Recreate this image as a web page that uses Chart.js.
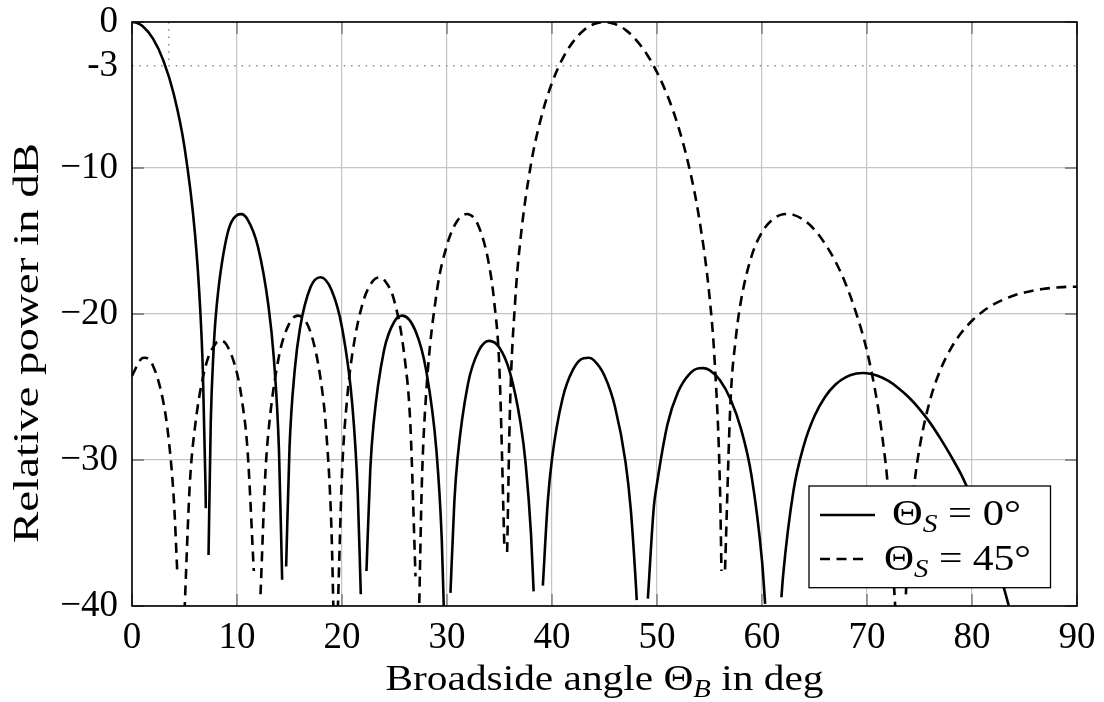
<!DOCTYPE html>
<html>
<head>
<meta charset="utf-8">
<script src="https://cdn.jsdelivr.net/npm/chart.js@4.4.0/dist/chart.umd.min.js"></script>
<style>
  html, body { margin: 0; padding: 0; background: #fff; }
</style>
</head>
<body>
<canvas id="plot" width="1104" height="702"></canvas>
<script>
// beam pattern, steering angle 0 deg (null = gap at a pattern null)
anglesSteer0 = [0, 0.5, 1, 2, 3, 4, 5, 6, 6.5, 6.75, 7, 7.03, 7.18, 7.29, 7.5, 7.75, 8, 9, 10, 10.4, 11, 12, 13, 13.5, 14, 14.3, 14.48, 14.68, 15, 15.5, 16, 17, 17.95, 19, 20, 21, 21.5, 21.79, 22.02, 22.33, 22.7, 23, 24, 25, 25.75, 27, 28, 29, 29.5, 29.75, 30, 30.33, 30.7, 31, 32, 33, 34, 35, 36, 37, 37.5, 38, 38.25, 38.68, 39.13, 39.6, 40, 41, 42, 43, 43.5, 44, 45, 46, 47, 47.5, 48, 48.07, 48.59, 49.13, 49.7, 50, 51, 52, 53, 54, 54.4, 55, 56, 57, 58, 59, 60, 60.3, 61.04, 61.85, 62, 63, 64, 65, 66, 67, 68, 69, 69.6, 70, 71, 72, 73, 74, 75, 76, 77, 78, 79, 80, 81, 82, 83, 84]
powerSteer0 = [0, -0.07, -0.28, -1.14, -2.66, -5.0, -8.57, -14.51, -19.72, -23.95, -31.76, -33.3, null, -36.5, -27.43, -22.75, -19.96, -14.78, -13.23, -13.16, -13.52, -15.41, -19.47, -22.96, -29.38, -38.2, null, -37.3, -29.18, -23.83, -20.97, -18.17, -17.48, -18.35, -20.92, -26.38, -32.28, -39.2, null, -37.6, -30.55, -27.58, -22.5, -20.5, -20.11, -21.17, -23.81, -29.41, -35.42, -41.5, null, -39.1, -32.85, -29.93, -24.77, -22.55, -21.84, -22.31, -24.01, -27.46, -30.31, -35.07, -39.0, null, -38.6, -32.84, -29.92, -25.8, -23.81, -23.03, -23.0, -23.18, -24.23, -26.35, -30.13, -33.37, -38.67, -39.6, null, -39.5, -33.19, -31.61, -27.55, -25.35, -24.18, -23.72, -23.71, -23.85, -24.54, -25.84, -27.87, -31.07, -36.9, -39.85, null, -39.4, -37.98, -32.1, -28.96, -26.99, -25.68, -24.83, -24.32, -24.08, -24.04, -24.06, -24.23, -24.57, -25.08, -25.72, -26.51, -27.44, -28.54, -29.74, -31.04, -32.64, -34.39, -36.41, -38.67, -41.34]

// beam pattern, steering angle 45 deg
anglesSteer45 = [0, 1, 1.25, 2, 3, 3.5, 4, 4.3, 4.71, 5.0, 5.5, 6, 7, 8, 8.4, 9, 10, 10.5, 11, 11.6, 11.95, 12.24, 12.7, 13, 14, 15, 15.8, 17, 18, 18.5, 19, 19.2, 19.4, 19.6, 20, 20.5, 21, 22, 23, 23.6, 24, 25, 26, 26.5, 27, 27.2, 27.36, 27.6, 28, 29, 30, 31, 31.9, 33, 34, 34.5, 35, 35.46, 35.6, 35.73, 36, 36.5, 37, 38, 39, 40, 41, 42, 43, 44, 45, 46, 47, 48, 49, 50, 51, 52, 53, 54, 55, 55.5, 56, 56.14, 56.31, 56.48, 57, 57.5, 58, 59, 60, 61, 62, 62.5, 63, 64, 65, 66, 67, 68, 69, 70, 71, 71.5, 72, 72.7, 73.17, 73.7, 74, 74.5, 75, 76, 77, 78, 79, 80, 81, 82, 83, 84, 85, 86, 87, 88, 89, 90]
powerSteer45 = [-24.23, -23.02, -23.0, -23.54, -26.09, -28.6, -32.89, -37.5, null, -40.4, -31.72, -27.73, -23.6, -21.99, -21.83, -22.1, -24.06, -26.05, -29.29, -37.6, null, -39.2, -30.94, -28.03, -22.88, -20.63, -20.11, -21.24, -24.65, -28.06, -34.83, -40.8, null, -40.3, -30.93, -25.7, -22.65, -19.19, -17.69, -17.49, -17.64, -19.15, -23.2, -27.44, -37.97, null, -39.8, -31.73, -25.61, -18.62, -15.27, -13.6, -13.15, -13.97, -16.61, -19.2, -23.89, -35.9, null, -36.3, -26.43, -19.02, -14.87, -9.73, -6.46, -4.17, -2.52, -1.36, -0.58, -0.14, 0, -0.14, -0.54, -1.22, -2.17, -3.44, -5.05, -7.1, -9.76, -13.37, -18.8, -23.33, -31.94, -37.6, null, -37.5, -26.02, -21.69, -19.09, -16.05, -14.4, -13.53, -13.17, -13.15, -13.21, -13.57, -14.23, -15.18, -16.41, -17.99, -20.01, -22.54, -26.16, -28.64, -31.93, -40.2, null, -39.2, -35.5, -31.7, -29.18, -25.91, -23.81, -22.35, -21.27, -20.46, -19.84, -19.37, -19.01, -18.73, -18.53, -18.37, -18.26, -18.19, -18.14, -18.13]

xTicks = [0, 10, 20, 30, 40, 50, 60, 70, 80, 90]
yTicks = [0, -3, -10, -20, -30, -40]
yTickLabels = ['0', '-3', '\u221210', '\u221220', '\u221230', '\u221240']
halfPowerLevel = -3
halfPowerAngle = 3.5

serif = "'Liberation Serif', 'Times New Roman', serif"
mainFont = '36px ' + serif
subFont = 'italic 25px ' + serif

toPoints = (xs, ys) => xs.map((x, i) => ({x: x, y: ys[i]}))

function richWidth(ctx, parts) {
  let w = 0
  parts.forEach(p => { ctx.font = p.sub ? subFont : mainFont; w += ctx.measureText(p.text).width })
  return w
}

// draws text with a subscript, stretched to the given width (x = left, y = baseline)
function drawRich(ctx, parts, x, y, width) {
  const sx = width / richWidth(ctx, parts)
  ctx.save()
  ctx.translate(x, y)
  ctx.scale(sx, 1)
  ctx.fillStyle = '#000'
  ctx.textAlign = 'left'
  ctx.textBaseline = 'alphabetic'
  let cx = 0
  parts.forEach(p => {
    ctx.font = p.sub ? subFont : mainFont
    ctx.fillText(p.text, cx, p.sub ? 7 : 0)
    cx += ctx.measureText(p.text).width
  })
  ctx.restore()
}

framePlugin = {
  id: 'frame',
  afterDatasetsDraw(chart) {
    const ctx = chart.ctx
    const a = chart.chartArea
    const xs = chart.scales.x, ys = chart.scales.y
    ctx.save()
    // inward ticks on all four sides
    ctx.strokeStyle = '#707070'
    ctx.lineWidth = 1.3
    ctx.beginPath()
    xTicks.forEach(v => {
      const px = xs.getPixelForValue(v)
      ctx.moveTo(px, a.bottom); ctx.lineTo(px, a.bottom - 12)
      ctx.moveTo(px, a.top); ctx.lineTo(px, a.top + 12)
    })
    yTicks.forEach(v => {
      if (v === halfPowerLevel) return
      const py = ys.getPixelForValue(v)
      ctx.moveTo(a.left, py); ctx.lineTo(a.left + 12, py)
      ctx.moveTo(a.right, py); ctx.lineTo(a.right - 12, py)
    })
    ctx.stroke()
    // axis box
    ctx.strokeStyle = '#000'
    ctx.lineWidth = 1.6
    ctx.strokeRect(a.left, a.top, a.right - a.left, a.bottom - a.top)

    // legend
    const bx = a.right - 268, by = a.bottom - 120, bw = 241.5, bh = 101.7
    ctx.fillStyle = '#fff'
    ctx.fillRect(bx, by, bw, bh)
    ctx.lineWidth = 1.3
    ctx.strokeRect(bx, by, bw, bh)
    ctx.lineWidth = 2.6
    ctx.beginPath()
    ctx.moveTo(bx + 11, by + 29); ctx.lineTo(bx + 66, by + 29)
    ctx.stroke()
    ctx.setLineDash([10, 6.5])
    ctx.beginPath()
    ctx.moveTo(bx + 11, by + 73); ctx.lineTo(bx + 60, by + 73)
    ctx.stroke()
    ctx.setLineDash([])
    drawRich(ctx, [{text: '\u0398'}, {text: 'S', sub: true}, {text: ' = 0\u00b0'}], bx + 83, by + 39, 129)
    drawRich(ctx, [{text: '\u0398'}, {text: 'S', sub: true}, {text: ' = 45\u00b0'}], bx + 75, by + 84, 147)

    // axis titles
    const xTitle = [{text: 'Broadside angle \u0398'}, {text: 'B', sub: true}, {text: ' in deg'}]
    drawRich(ctx, xTitle, (a.left + a.right) / 2 - 219, 690, 438)
    ctx.translate(37.7, 343)
    ctx.rotate(-Math.PI / 2)
    drawRich(ctx, [{text: 'Relative power in dB'}], -200, 0, 400)
    ctx.restore()
  }
}

gridColor = '#c4c4c4'

new Chart(document.getElementById('plot'), {
  type: 'line',
  data: {
    datasets: [
      {
        data: toPoints([0, 90], [halfPowerLevel, halfPowerLevel]),
        borderColor: '#8a8a8a', borderWidth: 1.5, borderDash: [1.5, 5.8]
      },
      {
        data: toPoints([halfPowerAngle, halfPowerAngle], [0, halfPowerLevel]),
        borderColor: '#8a8a8a', borderWidth: 1.5, borderDash: [1.5, 5.8]
      },
      {
        label: '\u0398S = 0\u00b0',
        data: toPoints(anglesSteer0, powerSteer0),
        borderColor: '#000', borderWidth: 2.6,
        cubicInterpolationMode: 'monotone'
      },
      {
        label: '\u0398S = 45\u00b0',
        data: toPoints(anglesSteer45, powerSteer45),
        borderColor: '#000', borderWidth: 2.6, borderDash: [10, 6.5],
        cubicInterpolationMode: 'monotone'
      }
    ]
  },
  options: {
    responsive: false,
    animation: false,
    devicePixelRatio: 1,
    spanGaps: false,
    elements: { point: { radius: 0 } },
    layout: { padding: { left: 0, right: 27, top: 22, bottom: 0 } },
    plugins: { legend: { display: false }, tooltip: { enabled: false } },
    scales: {
      x: {
        type: 'linear', min: 0, max: 90,
        afterBuildTicks: s => { s.ticks = xTicks.map(v => ({value: v})) },
        afterFit: s => { s.height = 96; s.paddingLeft = 0; s.paddingRight = 0 },
        border: { display: false },
        grid: { color: gridColor, lineWidth: 1.2, drawTicks: false },
        ticks: {
          padding: 10, color: '#000', maxRotation: 0, autoSkip: false,
          font: { family: serif, size: 37 },
          callback: v => String(v)
        }
      },
      y: {
        type: 'linear', min: -40, max: 0,
        afterBuildTicks: s => { s.ticks = yTicks.map(v => ({value: v})) },
        afterFit: s => { s.width = 132; s.paddingTop = 0; s.paddingBottom = 0 },
        border: { display: false },
        grid: {
          color: c => (c.tick && c.tick.value === halfPowerLevel) ? 'rgba(0,0,0,0)' : gridColor,
          lineWidth: 1.2, drawTicks: false
        },
        ticks: {
          padding: 14, color: '#000', autoSkip: false,
          font: { family: serif, size: 37 },
          callback: v => yTickLabels[yTicks.indexOf(v)]
        }
      }
    }
  },
  plugins: [framePlugin]
})
</script>
</body>
</html>
